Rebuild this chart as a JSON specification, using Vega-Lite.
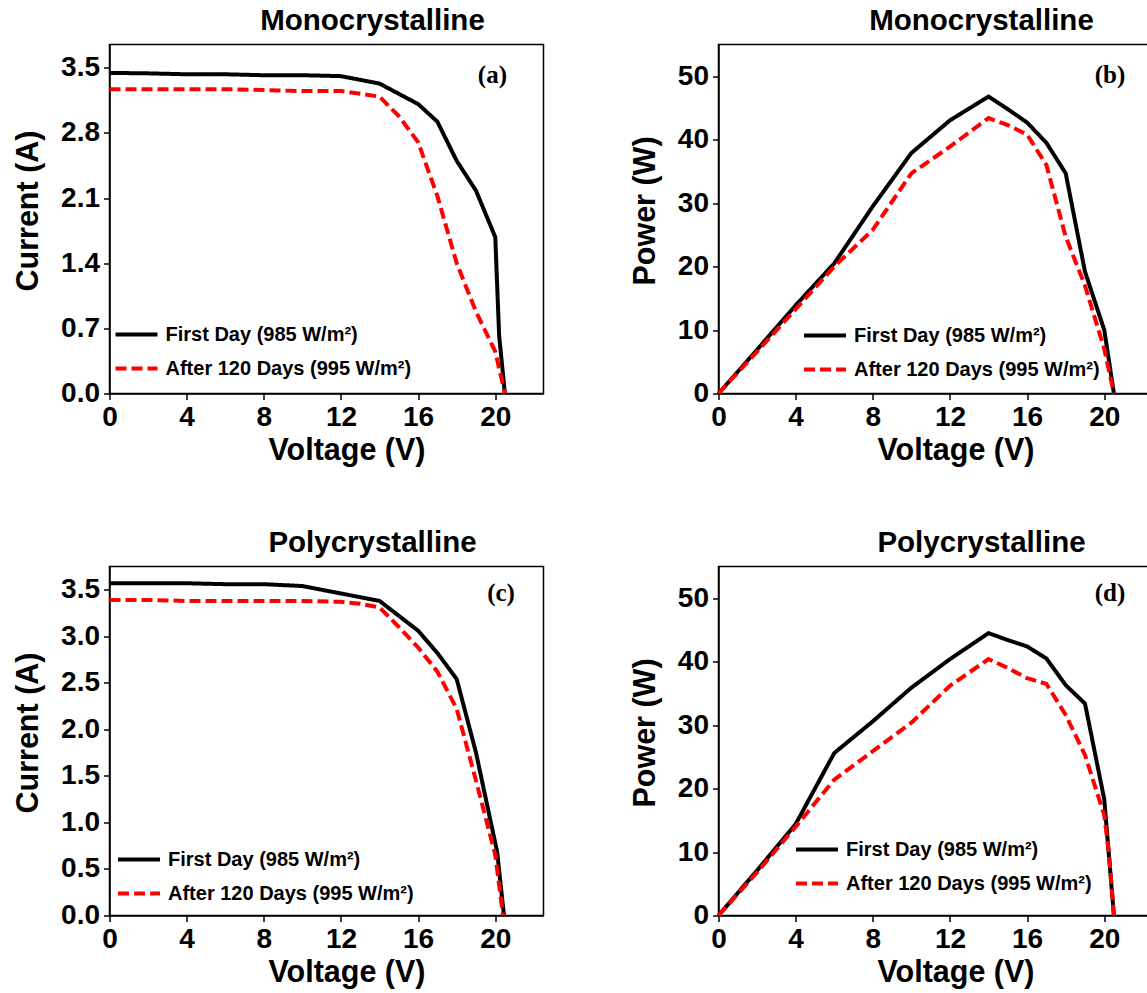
{
  "$schema": "https://vega.github.io/schema/vega-lite/v6.json",
  "background": "white",
  "padding": {"left": 12.5, "top": 4.5, "right": 0, "bottom": 0},
  "columns": 2,
  "spacing": {"row": 59, "column": 85},
  "resolve": {
    "scale": {"x": "independent", "y": "independent", "color": "independent", "strokeDash": "independent"},
    "axis": {"x": "independent", "y": "independent"},
    "legend": {"color": "independent", "strokeDash": "independent"}
  },
  "config": {
    "font": "Liberation Sans",
    "view": {"stroke": "black", "strokeWidth": 1.5},
    "axis": {
      "domainColor": "black", "domainWidth": 1.5, "tickColor": "black", "tickWidth": 1.5, "tickSize": 6,
      "labelFont": "Liberation Sans", "labelFontSize": 28, "labelFontWeight": "bold", "labelColor": "black",
      "titleFont": "Liberation Sans", "titleFontSize": 30.5, "titleFontWeight": "bold", "titleColor": "black",
      "grid": false, "labelPadding": 4, "labelFlush": false, "labelOverlap": false
    },
    "axisY": {"titlePadding": 17},
    "axisX": {"titlePadding": 4, "labelPadding": 4},
    "title": {"font": "Liberation Sans", "fontSize": 29.5, "fontWeight": "bold", "color": "black", "anchor": "middle", "frame": "group", "dx": 46, "offset": 8},
    "legend": {
      "orient": "none", "symbolType": "stroke", "symbolSize": 1760, "symbolStrokeWidth": 4,
      "labelFont": "Liberation Sans", "labelFontSize": 20, "labelFontWeight": "bold", "labelColor": "black",
      "labelLimit": 0, "rowPadding": 1, "padding": 0, "labelOffset": 6, "title": null
    }
  },
  "datasets": {
    "mono_iv": [
      {"V": 0, "value": 3.445, "series": "First Day (985 W/m²)"},
      {"V": 2, "value": 3.44, "series": "First Day (985 W/m²)"},
      {"V": 4, "value": 3.43, "series": "First Day (985 W/m²)"},
      {"V": 6, "value": 3.43, "series": "First Day (985 W/m²)"},
      {"V": 8, "value": 3.42, "series": "First Day (985 W/m²)"},
      {"V": 10, "value": 3.42, "series": "First Day (985 W/m²)"},
      {"V": 12, "value": 3.41, "series": "First Day (985 W/m²)"},
      {"V": 14, "value": 3.33, "series": "First Day (985 W/m²)"},
      {"V": 16, "value": 3.11, "series": "First Day (985 W/m²)"},
      {"V": 17, "value": 2.92, "series": "First Day (985 W/m²)"},
      {"V": 18, "value": 2.5, "series": "First Day (985 W/m²)"},
      {"V": 19, "value": 2.18, "series": "First Day (985 W/m²)"},
      {"V": 20, "value": 1.68, "series": "First Day (985 W/m²)"},
      {"V": 20.2, "value": 0.62, "series": "First Day (985 W/m²)"},
      {"V": 20.5, "value": 0, "series": "First Day (985 W/m²)"},
      {"V": 0, "value": 3.27, "series": "After 120 Days (995 W/m²)"},
      {"V": 2, "value": 3.27, "series": "After 120 Days (995 W/m²)"},
      {"V": 4, "value": 3.27, "series": "After 120 Days (995 W/m²)"},
      {"V": 6, "value": 3.27, "series": "After 120 Days (995 W/m²)"},
      {"V": 8, "value": 3.26, "series": "After 120 Days (995 W/m²)"},
      {"V": 10, "value": 3.25, "series": "After 120 Days (995 W/m²)"},
      {"V": 12, "value": 3.25, "series": "After 120 Days (995 W/m²)"},
      {"V": 14, "value": 3.19, "series": "After 120 Days (995 W/m²)"},
      {"V": 15, "value": 2.98, "series": "After 120 Days (995 W/m²)"},
      {"V": 16, "value": 2.7, "series": "After 120 Days (995 W/m²)"},
      {"V": 17, "value": 2.12, "series": "After 120 Days (995 W/m²)"},
      {"V": 18, "value": 1.4, "series": "After 120 Days (995 W/m²)"},
      {"V": 19, "value": 0.88, "series": "After 120 Days (995 W/m²)"},
      {"V": 20, "value": 0.45, "series": "After 120 Days (995 W/m²)"},
      {"V": 20.5, "value": 0, "series": "After 120 Days (995 W/m²)"}
    ],
    "mono_pv": [
      {"V": 0, "value": 0, "series": "First Day (985 W/m²)"},
      {"V": 2, "value": 6.9, "series": "First Day (985 W/m²)"},
      {"V": 4, "value": 13.9, "series": "First Day (985 W/m²)"},
      {"V": 6, "value": 20.5, "series": "First Day (985 W/m²)"},
      {"V": 8, "value": 29.5, "series": "First Day (985 W/m²)"},
      {"V": 10, "value": 37.9, "series": "First Day (985 W/m²)"},
      {"V": 12, "value": 43.05, "series": "First Day (985 W/m²)"},
      {"V": 14, "value": 46.8, "series": "First Day (985 W/m²)"},
      {"V": 15, "value": 44.8, "series": "First Day (985 W/m²)"},
      {"V": 16, "value": 42.7, "series": "First Day (985 W/m²)"},
      {"V": 17, "value": 39.5, "series": "First Day (985 W/m²)"},
      {"V": 18, "value": 34.7, "series": "First Day (985 W/m²)"},
      {"V": 19, "value": 19.2, "series": "First Day (985 W/m²)"},
      {"V": 20, "value": 10, "series": "First Day (985 W/m²)"},
      {"V": 20.5, "value": 0, "series": "First Day (985 W/m²)"},
      {"V": 0, "value": 0, "series": "After 120 Days (995 W/m²)"},
      {"V": 2, "value": 6.6, "series": "After 120 Days (995 W/m²)"},
      {"V": 4, "value": 13.3, "series": "After 120 Days (995 W/m²)"},
      {"V": 6, "value": 20, "series": "After 120 Days (995 W/m²)"},
      {"V": 8, "value": 25.8, "series": "After 120 Days (995 W/m²)"},
      {"V": 10, "value": 34.7, "series": "After 120 Days (995 W/m²)"},
      {"V": 12, "value": 38.9, "series": "After 120 Days (995 W/m²)"},
      {"V": 14, "value": 43.4, "series": "After 120 Days (995 W/m²)"},
      {"V": 15, "value": 42.3, "series": "After 120 Days (995 W/m²)"},
      {"V": 16, "value": 40.8, "series": "After 120 Days (995 W/m²)"},
      {"V": 17, "value": 36, "series": "After 120 Days (995 W/m²)"},
      {"V": 18, "value": 24.7, "series": "After 120 Days (995 W/m²)"},
      {"V": 19, "value": 17, "series": "After 120 Days (995 W/m²)"},
      {"V": 20, "value": 7, "series": "After 120 Days (995 W/m²)"},
      {"V": 20.5, "value": 0, "series": "After 120 Days (995 W/m²)"}
    ],
    "poly_iv": [
      {"V": 0, "value": 3.57, "series": "First Day (985 W/m²)"},
      {"V": 2, "value": 3.57, "series": "First Day (985 W/m²)"},
      {"V": 4, "value": 3.57, "series": "First Day (985 W/m²)"},
      {"V": 6, "value": 3.56, "series": "First Day (985 W/m²)"},
      {"V": 8, "value": 3.56, "series": "First Day (985 W/m²)"},
      {"V": 10, "value": 3.54, "series": "First Day (985 W/m²)"},
      {"V": 12, "value": 3.46, "series": "First Day (985 W/m²)"},
      {"V": 14, "value": 3.38, "series": "First Day (985 W/m²)"},
      {"V": 16, "value": 3.06, "series": "First Day (985 W/m²)"},
      {"V": 17, "value": 2.82, "series": "First Day (985 W/m²)"},
      {"V": 18, "value": 2.54, "series": "First Day (985 W/m²)"},
      {"V": 19, "value": 1.75, "series": "First Day (985 W/m²)"},
      {"V": 20.1, "value": 0.68, "series": "First Day (985 W/m²)"},
      {"V": 20.45, "value": 0, "series": "First Day (985 W/m²)"},
      {"V": 0, "value": 3.39, "series": "After 120 Days (995 W/m²)"},
      {"V": 2, "value": 3.39, "series": "After 120 Days (995 W/m²)"},
      {"V": 4, "value": 3.38, "series": "After 120 Days (995 W/m²)"},
      {"V": 6, "value": 3.38, "series": "After 120 Days (995 W/m²)"},
      {"V": 8, "value": 3.38, "series": "After 120 Days (995 W/m²)"},
      {"V": 10, "value": 3.38, "series": "After 120 Days (995 W/m²)"},
      {"V": 12, "value": 3.37, "series": "After 120 Days (995 W/m²)"},
      {"V": 13, "value": 3.35, "series": "After 120 Days (995 W/m²)"},
      {"V": 14, "value": 3.31, "series": "After 120 Days (995 W/m²)"},
      {"V": 15, "value": 3.1, "series": "After 120 Days (995 W/m²)"},
      {"V": 16, "value": 2.88, "series": "After 120 Days (995 W/m²)"},
      {"V": 17, "value": 2.62, "series": "After 120 Days (995 W/m²)"},
      {"V": 18, "value": 2.22, "series": "After 120 Days (995 W/m²)"},
      {"V": 19, "value": 1.45, "series": "After 120 Days (995 W/m²)"},
      {"V": 20, "value": 0.65, "series": "After 120 Days (995 W/m²)"},
      {"V": 20.4, "value": 0, "series": "After 120 Days (995 W/m²)"}
    ],
    "poly_pv": [
      {"V": 0, "value": 0, "series": "First Day (985 W/m²)"},
      {"V": 2, "value": 7.1, "series": "First Day (985 W/m²)"},
      {"V": 4, "value": 14.4, "series": "First Day (985 W/m²)"},
      {"V": 6, "value": 25.6, "series": "First Day (985 W/m²)"},
      {"V": 8, "value": 30.6, "series": "First Day (985 W/m²)"},
      {"V": 10, "value": 35.9, "series": "First Day (985 W/m²)"},
      {"V": 12, "value": 40.4, "series": "First Day (985 W/m²)"},
      {"V": 14, "value": 44.5, "series": "First Day (985 W/m²)"},
      {"V": 15, "value": 43.4, "series": "First Day (985 W/m²)"},
      {"V": 16, "value": 42.4, "series": "First Day (985 W/m²)"},
      {"V": 17, "value": 40.5, "series": "First Day (985 W/m²)"},
      {"V": 18, "value": 36.3, "series": "First Day (985 W/m²)"},
      {"V": 19, "value": 33.4, "series": "First Day (985 W/m²)"},
      {"V": 20, "value": 18.3, "series": "First Day (985 W/m²)"},
      {"V": 20.5, "value": 0, "series": "First Day (985 W/m²)"},
      {"V": 0, "value": 0, "series": "After 120 Days (995 W/m²)"},
      {"V": 2, "value": 6.8, "series": "After 120 Days (995 W/m²)"},
      {"V": 4, "value": 14, "series": "After 120 Days (995 W/m²)"},
      {"V": 6, "value": 21.4, "series": "After 120 Days (995 W/m²)"},
      {"V": 8, "value": 25.9, "series": "After 120 Days (995 W/m²)"},
      {"V": 10, "value": 30.4, "series": "After 120 Days (995 W/m²)"},
      {"V": 12, "value": 36.2, "series": "After 120 Days (995 W/m²)"},
      {"V": 14, "value": 40.4, "series": "After 120 Days (995 W/m²)"},
      {"V": 15, "value": 39, "series": "After 120 Days (995 W/m²)"},
      {"V": 16, "value": 37.4, "series": "After 120 Days (995 W/m²)"},
      {"V": 17, "value": 36.5, "series": "After 120 Days (995 W/m²)"},
      {"V": 18, "value": 31.6, "series": "After 120 Days (995 W/m²)"},
      {"V": 19, "value": 25.3, "series": "After 120 Days (995 W/m²)"},
      {"V": 20, "value": 15.8, "series": "After 120 Days (995 W/m²)"},
      {"V": 20.25, "value": 9.5, "series": "After 120 Days (995 W/m²)"},
      {"V": 20.5, "value": 0, "series": "After 120 Days (995 W/m²)"}
    ],
    "tags_a": [{"V": 19.85, "value": 3.42, "label": "(a)"}],
    "tags_b": [{"V": 20.3, "value": 50.2, "label": "(b)"}],
    "tags_c": [{"V": 20.3, "value": 3.46, "label": "(c)"}],
    "tags_d": [{"V": 20.3, "value": 50.9, "label": "(d)"}]
  },
  "concat": [
    {
      "width": 434, "height": 349,
      "title": {"text": "Monocrystalline"},
      "layer": [
        {
          "data": {"name": "mono_iv"},
          "mark": {"type": "line", "strokeWidth": 4, "strokeJoin": "miter"},
          "encoding": {
            "x": {"field": "V", "type": "quantitative", "scale": {"domain": [0, 22.5], "nice": false}, "axis": {"values": [0, 4, 8, 12, 16, 20], "title": "Voltage (V)", "titleX": 237}},
            "y": {"field": "value", "type": "quantitative", "scale": {"domain": [0, 3.75], "nice": false}, "axis": {"values": [0, 0.7, 1.4, 2.1, 2.8, 3.5], "format": ".1f", "title": "Current (A)", "titleY": 166}},
            "color": {"field": "series", "type": "nominal", "scale": {"domain": ["First Day (985 W/m²)", "After 120 Days (995 W/m²)"], "range": ["#000000", "#ff0000"]}, "legend": {"legendX": 4, "legendY": 267}},
            "strokeDash": {"field": "series", "type": "nominal", "scale": {"domain": ["First Day (985 W/m²)", "After 120 Days (995 W/m²)"], "range": [[1, 0], [11, 5]]}, "legend": {"legendX": 4, "legendY": 267}}
          }
        },
        {
          "data": {"name": "tags_a"},
          "mark": {"type": "text", "font": "Liberation Serif", "fontSize": 25, "fontWeight": "bold", "color": "black"},
          "encoding": {"x": {"field": "V", "type": "quantitative"}, "y": {"field": "value", "type": "quantitative"}, "text": {"field": "label"}}
        }
      ]
    },
    {
      "width": 434, "height": 349,
      "title": {"text": "Monocrystalline"},
      "layer": [
        {
          "data": {"name": "mono_pv"},
          "mark": {"type": "line", "strokeWidth": 4, "strokeJoin": "miter"},
          "encoding": {
            "x": {"field": "V", "type": "quantitative", "scale": {"domain": [0, 22.5], "nice": false}, "axis": {"values": [0, 4, 8, 12, 16, 20], "title": "Voltage (V)", "titleX": 237}},
            "y": {"field": "value", "type": "quantitative", "scale": {"domain": [0, 55], "nice": false}, "axis": {"values": [0, 10, 20, 30, 40, 50], "title": "Power (W)", "titleY": 166}},
            "color": {"field": "series", "type": "nominal", "scale": {"domain": ["First Day (985 W/m²)", "After 120 Days (995 W/m²)"], "range": ["#000000", "#ff0000"]}, "legend": {"legendX": 83.5, "legendY": 268}},
            "strokeDash": {"field": "series", "type": "nominal", "scale": {"domain": ["First Day (985 W/m²)", "After 120 Days (995 W/m²)"], "range": [[1, 0], [11, 5]]}, "legend": {"legendX": 83.5, "legendY": 268}}
          }
        },
        {
          "data": {"name": "tags_b"},
          "mark": {"type": "text", "font": "Liberation Serif", "fontSize": 25, "fontWeight": "bold", "color": "black"},
          "encoding": {"x": {"field": "V", "type": "quantitative"}, "y": {"field": "value", "type": "quantitative"}, "text": {"field": "label"}}
        }
      ]
    },
    {
      "width": 434, "height": 349,
      "title": {"text": "Polycrystalline"},
      "layer": [
        {
          "data": {"name": "poly_iv"},
          "mark": {"type": "line", "strokeWidth": 4, "strokeJoin": "miter"},
          "encoding": {
            "x": {"field": "V", "type": "quantitative", "scale": {"domain": [0, 22.5], "nice": false}, "axis": {"values": [0, 4, 8, 12, 16, 20], "title": "Voltage (V)", "titleX": 237}},
            "y": {"field": "value", "type": "quantitative", "scale": {"domain": [0, 3.75], "nice": false}, "axis": {"values": [0, 0.5, 1, 1.5, 2, 2.5, 3, 3.5], "format": ".1f", "title": "Current (A)", "titleY": 166}},
            "color": {"field": "series", "type": "nominal", "scale": {"domain": ["First Day (985 W/m²)", "After 120 Days (995 W/m²)"], "range": ["#000000", "#ff0000"]}, "legend": {"legendX": 6.5, "legendY": 270}},
            "strokeDash": {"field": "series", "type": "nominal", "scale": {"domain": ["First Day (985 W/m²)", "After 120 Days (995 W/m²)"], "range": [[1, 0], [11, 5]]}, "legend": {"legendX": 6.5, "legendY": 270}}
          }
        },
        {
          "data": {"name": "tags_c"},
          "mark": {"type": "text", "font": "Liberation Serif", "fontSize": 25, "fontWeight": "bold", "color": "black"},
          "encoding": {"x": {"field": "V", "type": "quantitative"}, "y": {"field": "value", "type": "quantitative"}, "text": {"field": "label"}}
        }
      ]
    },
    {
      "width": 434, "height": 349,
      "title": {"text": "Polycrystalline"},
      "layer": [
        {
          "data": {"name": "poly_pv"},
          "mark": {"type": "line", "strokeWidth": 4, "strokeJoin": "miter"},
          "encoding": {
            "x": {"field": "V", "type": "quantitative", "scale": {"domain": [0, 22.5], "nice": false}, "axis": {"values": [0, 4, 8, 12, 16, 20], "title": "Voltage (V)", "titleX": 237}},
            "y": {"field": "value", "type": "quantitative", "scale": {"domain": [0, 55], "nice": false}, "axis": {"values": [0, 10, 20, 30, 40, 50], "title": "Power (W)", "titleY": 166}},
            "color": {"field": "series", "type": "nominal", "scale": {"domain": ["First Day (985 W/m²)", "After 120 Days (995 W/m²)"], "range": ["#000000", "#ff0000"]}, "legend": {"legendX": 75.5, "legendY": 260}},
            "strokeDash": {"field": "series", "type": "nominal", "scale": {"domain": ["First Day (985 W/m²)", "After 120 Days (995 W/m²)"], "range": [[1, 0], [11, 5]]}, "legend": {"legendX": 75.5, "legendY": 260}}
          }
        },
        {
          "data": {"name": "tags_d"},
          "mark": {"type": "text", "font": "Liberation Serif", "fontSize": 25, "fontWeight": "bold", "color": "black"},
          "encoding": {"x": {"field": "V", "type": "quantitative"}, "y": {"field": "value", "type": "quantitative"}, "text": {"field": "label"}}
        }
      ]
    }
  ]
}
